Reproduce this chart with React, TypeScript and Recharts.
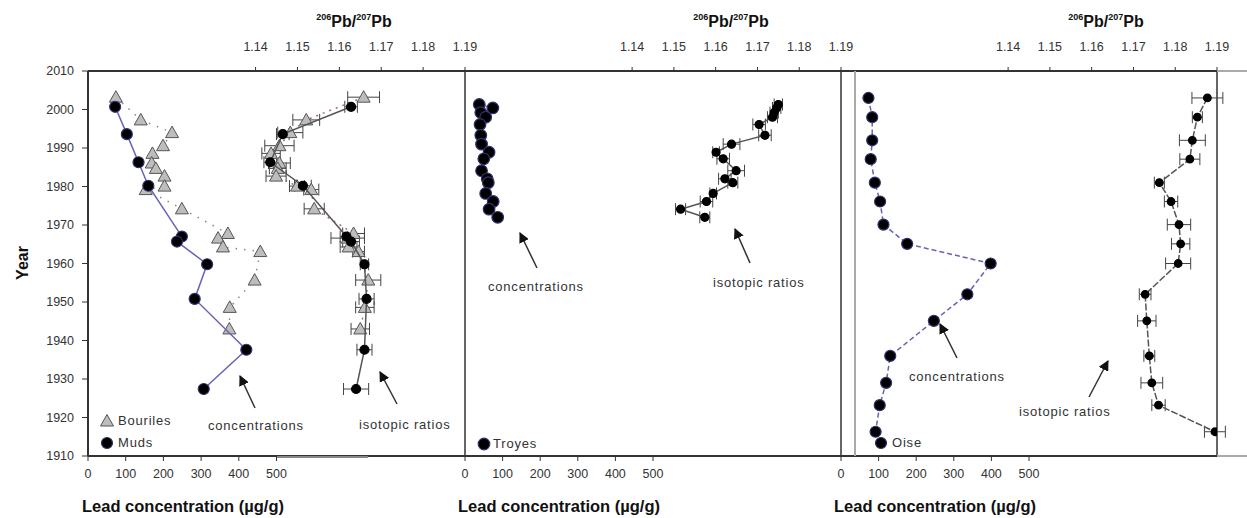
import React from 'react';
import { ScatterChart, Scatter, XAxis, YAxis, ErrorBar, ReferenceLine } from 'recharts';

// ---------- tick labels ----------
const yearTicks = [1910, 1920, 1930, 1940, 1950, 1960, 1970, 1980, 1990, 2000, 2010];
const concTicks = [0, 100, 200, 300, 400, 500];
const isoTicks = [1.14, 1.15, 1.16, 1.17, 1.18, 1.19];

// ---------- Panel 1 : Bouriles ----------
const bourilesYears = [2003.2, 1997.3, 1994, 1990.6, 1988.6, 1986.1, 1984.7, 1982.7, 1980.1, 1979.2, 1974.2, 1967.8, 1966.6, 1964.3, 1963.1, 1955.7, 1948.6, 1943];
const bourilesConc = [74, 140, 223, 199, 171, 169, 180, 203, 203, 153, 249, 371, 345, 358, 457, 442, 376, 375];
const bourilesIso = [1.1658, 1.1521, 1.1483, 1.1457, 1.1437, 1.1457, 1.1453, 1.1449, 1.1499, 1.1533, 1.154, 1.1634, 1.162, 1.1622, 1.1646, 1.1669, 1.1661, 1.165];
const bourilesIsoErr = [0.0038, 0.0032, 0.003, 0.0035, 0.0022, 0.0026, 0.002, 0.0024, 0.0018, 0.0018, 0.0024, 0.0026, 0.004, 0.002, 0.0014, 0.003, 0.0022, 0.0022];

// ---------- Panel 1 : Muds ----------
const mudsYears = [2000.7, 1993.6, 1986.3, 1980.2, 1967, 1965.7, 1959.8, 1950.8, 1937.6, 1927.4];
const mudsConc = [72, 103, 134, 160, 249, 236, 316, 283, 420, 307];
const mudsIso = [1.1628, 1.1465, 1.1435, 1.1513, 1.1617, 1.1628, 1.166, 1.1665, 1.166, 1.164];
const mudsIsoErr = [0.0015, 0.0015, 0.0015, 0.002, 0.0015, 0.002, 0.001, 0.0018, 0.0018, 0.003];

// ---------- Panel 2 : Troyes ----------
const troyesYears = [2001.3, 2000.4, 1999.2, 1998, 1996.1, 1993.3, 1991, 1988.9, 1987.2, 1984.1, 1982, 1981, 1978.2, 1976.1, 1974.1, 1972];
const troyesConc = [38, 74, 42, 55, 40, 42, 44, 64, 50, 44, 59, 62, 55, 75, 64, 87];
const troyesIso = [1.175, 1.1746, 1.174, 1.1736, 1.1704, 1.1718, 1.1638, 1.1601, 1.1618, 1.1649, 1.1622, 1.1641, 1.1594, 1.1578, 1.1516, 1.1574];
const troyesIsoErr = [0.001, 0.001, 0.001, 0.0012, 0.0015, 0.0015, 0.002, 0.0008, 0.0015, 0.002, 0.0015, 0.0012, 0.0008, 0.0015, 0.0012, 0.0012];

// ---------- Panel 3 : Oise ----------
const oiseYears = [2003, 1998, 1992, 1987.1, 1981, 1976.1, 1970.1, 1965.1, 1960, 1952, 1945.1, 1936, 1929, 1923.2, 1916.3];
const oiseConc = [73, 83, 83, 79, 90, 104, 113, 176, 398, 336, 247, 131, 120, 103, 92];
const oiseIso = [1.1877, 1.1853, 1.1841, 1.1835, 1.1762, 1.179, 1.1809, 1.1813, 1.1807, 1.1728, 1.1732, 1.1738, 1.1744, 1.176, 1.1895];
const oiseIsoErr = [0.0037, 0.0012, 0.0031, 0.0024, 0.0012, 0.0016, 0.0028, 0.0022, 0.003, 0.0014, 0.0022, 0.0013, 0.0026, 0.0016, 0.0025];

// ---------- builders ----------
const concRows = (years: number[], vals: number[]) => years.map((y, i) => ({ year: y, c: vals[i] }));
const isoRows = (years: number[], vals: number[], errs: number[]) => years.map((y, i) => ({ year: y, r: vals[i], e: errs[i] }));

const W = 1247;
const H = 518;
const PLOT_TOP = 71;
const PLOT_BOTTOM = 456;
const FONT = '"Liberation Sans", Arial, sans-serif';
const TOP_H = 40;
const BOT_H = 30;
const YAXIS_W = 88;

const Circle = (r: number, fill: string, stroke: string) => (p: any) => (
  <circle cx={p.cx} cy={p.cy} r={r} fill={fill} stroke={stroke} strokeWidth={1.2} />
);
const Tri = (p: any) => (
  <polygon
    points={`${p.cx},${p.cy - 6.5} ${p.cx - 6.5},${p.cy + 5} ${p.cx + 6.5},${p.cy + 5}`}
    fill="#bdbdbd"
    stroke="#555"
    strokeWidth={1}
  />
);

const tickStyle = { fill: '#333', fontSize: 12.5, fontFamily: FONT };

function Panel({ plotLeft, plotRight, showY, children }: any) {
  return (
    <div style={{ position: 'absolute', left: 0, top: 0 }}>
      <ScatterChart
        width={W}
        height={H}
        margin={{
          top: PLOT_TOP - TOP_H,
          bottom: H - PLOT_BOTTOM - BOT_H,
          left: showY ? plotLeft - YAXIS_W : plotLeft,
          right: W - plotRight,
        }}
      >
        <XAxis
          xAxisId="conc"
          type="number"
          dataKey="c"
          domain={[0, 1000]}
          ticks={concTicks}
          orientation="bottom"
          height={BOT_H}
          tick={tickStyle}
          tickSize={5}
          tickMargin={8}
          axisLine={{ stroke: '#333', strokeWidth: 2 }}
          tickLine={{ stroke: '#333' }}
          allowDataOverflow
        />
        <XAxis
          xAxisId="iso"
          type="number"
          dataKey="r"
          domain={[1.1, 1.19]}
          ticks={isoTicks}
          orientation="top"
          height={TOP_H}
          tick={tickStyle}
          tickSize={4}
          tickMargin={16}
          tickFormatter={(v: number) => v.toFixed(2)}
          axisLine={{ stroke: '#333', strokeWidth: 2 }}
          tickLine={{ stroke: '#333' }}
          allowDataOverflow
        />
        <YAxis
          type="number"
          dataKey="year"
          domain={[1910, 2010]}
          ticks={yearTicks}
          width={YAXIS_W}
          hide={!showY}
          tick={tickStyle}
          tickSize={6}
          tickMargin={8}
          axisLine={{ stroke: '#333', strokeWidth: 2 }}
          tickLine={{ stroke: '#333' }}
          allowDataOverflow
        />
        <ReferenceLine xAxisId="conc" x={1000} stroke="#666" strokeWidth={2} />
        {children}
      </ScatterChart>
    </div>
  );
}

const arrowDefs = (
  <defs>
    <marker id="ah" viewBox="0 0 10 10" refX="9" refY="5" markerWidth="7" markerHeight="7" orient="auto-start-reverse">
      <path d="M0,0 L10,5 L0,10 z" fill="#111" />
    </marker>
  </defs>
);

function Title({ cx }: { cx: number }) {
  return (
    <text x={cx} y={27} textAnchor="middle" fontFamily={FONT} fontWeight="bold" fill="#111">
      <tspan fontSize={9} dy={-7}>206</tspan>
      <tspan fontSize={16} dy={7}>Pb/</tspan>
      <tspan fontSize={9} dy={-7}>207</tspan>
      <tspan fontSize={16} dy={7}>Pb</tspan>
    </text>
  );
}

const annStyle = { fontFamily: FONT, fontSize: 13, fill: '#333', letterSpacing: 0.8 } as any;
const axTitle = { fontFamily: FONT, fontSize: 16.5, fontWeight: 'bold', fill: '#111' } as any;

export default function App() {
  return (
    <div style={{ position: 'absolute', left: 0, top: 0, width: W, height: H, background: '#fff', overflow: 'hidden' }}>
      {/* Panel 1 */}
      <Panel plotLeft={88} plotRight={465} showY>
        <Scatter
          xAxisId="conc"
          data={concRows(bourilesYears, bourilesConc)}
          shape={Tri}
          line={{ stroke: '#888', strokeWidth: 1.5, strokeDasharray: '1.5 7' }}
          isAnimationActive={false}
        />
        <Scatter
          xAxisId="conc"
          data={concRows(mudsYears, mudsConc)}
          shape={Circle(5.5, '#000', '#303070')}
          line={{ stroke: '#6464b8', strokeWidth: 1.5 }}
          isAnimationActive={false}
        />
        <Scatter
          xAxisId="iso"
          data={isoRows(bourilesYears, bourilesIso, bourilesIsoErr)}
          shape={Tri}
          line={{ stroke: '#b06a6a', strokeWidth: 1.5, strokeDasharray: '2 5' }}
          isAnimationActive={false}
        >
          <ErrorBar dataKey="e" direction="x" width={6} stroke="#444" strokeWidth={1} isAnimationActive={false} />
        </Scatter>
        <Scatter
          xAxisId="iso"
          data={isoRows(mudsYears, mudsIso, mudsIsoErr)}
          shape={Circle(4.5, '#000', '#000')}
          line={{ stroke: '#555', strokeWidth: 1.5 }}
          isAnimationActive={false}
        >
          <ErrorBar dataKey="e" direction="x" width={6} stroke="#444" strokeWidth={1} isAnimationActive={false} />
        </Scatter>
      </Panel>

      {/* Panel 2 */}
      <Panel plotLeft={465} plotRight={841} showY={false}>
        <Scatter
          xAxisId="conc"
          data={concRows(troyesYears, troyesConc)}
          shape={Circle(5.8, '#000', '#303070')}
          line={{ stroke: '#6464b8', strokeWidth: 1 }}
          isAnimationActive={false}
        />
        <Scatter
          xAxisId="iso"
          data={isoRows(troyesYears, troyesIso, troyesIsoErr)}
          shape={Circle(4, '#000', '#000')}
          line={{ stroke: '#555', strokeWidth: 1.5 }}
          isAnimationActive={false}
        >
          <ErrorBar dataKey="e" direction="x" width={6} stroke="#444" strokeWidth={1} isAnimationActive={false} />
        </Scatter>
      </Panel>

      {/* Panel 3 */}
      <Panel plotLeft={841} plotRight={1217} showY={false}>
        <Scatter
          xAxisId="conc"
          data={concRows(oiseYears, oiseConc)}
          shape={Circle(5.5, '#000', '#303070')}
          line={{ stroke: '#6464b8', strokeWidth: 1.5, strokeDasharray: '5 3' }}
          isAnimationActive={false}
        />
        <Scatter
          xAxisId="iso"
          data={isoRows(oiseYears, oiseIso, oiseIsoErr)}
          shape={Circle(3.8, '#000', '#000')}
          line={{ stroke: '#555', strokeWidth: 1.5, strokeDasharray: '7 2' }}
          isAnimationActive={false}
        >
          <ErrorBar dataKey="e" direction="x" width={6} stroke="#444" strokeWidth={1} isAnimationActive={false} />
        </Scatter>
      </Panel>

      {/* Overlay: titles, legends, annotations, frame extras */}
      <svg width={W} height={H} style={{ position: 'absolute', left: 0, top: 0, pointerEvents: 'none' }}>
        {arrowDefs}
        {/* frame extras */}
        <line x1={855} y1={71} x2={855} y2={456} stroke="#aaa" strokeWidth={2} />
        <line x1={1217} y1={71} x2={1247} y2={71} stroke="#aaa" strokeWidth={2} />
        <line x1={1217} y1={456} x2={1247} y2={456} stroke="#aaa" strokeWidth={2} />
        <line x1={277} y1={457} x2={368} y2={457} stroke="#888" strokeWidth={2} />

        <Title cx={354} />
        <Title cx={731} />
        <Title cx={1106} />

        <text x={22} y={263} transform="rotate(-90 22 263)" textAnchor="middle" dominantBaseline="central" fontFamily={FONT} fontWeight="bold" fontSize={16} fill="#111">Year</text>

        <text x={183} y={512} textAnchor="middle" style={axTitle}>Lead concentration (µg/g)</text>
        <text x={559} y={512} textAnchor="middle" style={axTitle}>Lead concentration (µg/g)</text>
        <text x={935} y={512} textAnchor="middle" style={axTitle}>Lead concentration (µg/g)</text>

        {/* legends */}
        <polygon points="107,414.5 100.5,426 113.5,426" fill="#bdbdbd" stroke="#555" strokeWidth={1} />
        <text x={118} y={425} style={annStyle}>Bouriles</text>
        <circle cx={107} cy={443} r={5.5} fill="#000" stroke="#303070" strokeWidth={1.2} />
        <text x={118} y={447} style={annStyle}>Muds</text>
        <circle cx={484} cy={444} r={5.8} fill="#000" stroke="#303070" strokeWidth={1.2} />
        <text x={493} y={448} style={annStyle}>Troyes</text>
        <circle cx={881} cy={443} r={5.5} fill="#000" stroke="#303070" strokeWidth={1.2} />
        <text x={892} y={447} style={annStyle}>Oise</text>

        {/* annotations */}
        <text x={208} y={430} style={annStyle}>concentrations</text>
        <line x1={255} y1={408} x2={240} y2={376} stroke="#333" strokeWidth={1.5} markerEnd="url(#ah)" />
        <text x={359} y={429} style={annStyle}>isotopic ratios</text>
        <line x1={397} y1={404} x2={380} y2={372} stroke="#333" strokeWidth={1.5} markerEnd="url(#ah)" />

        <text x={488} y={291} style={annStyle}>concentrations</text>
        <line x1={537} y1={268} x2={520} y2={233} stroke="#333" strokeWidth={1.5} markerEnd="url(#ah)" />
        <text x={713} y={287} style={annStyle}>isotopic ratios</text>
        <line x1={750} y1={263} x2={735} y2={229} stroke="#333" strokeWidth={1.5} markerEnd="url(#ah)" />

        <text x={909} y={381} style={annStyle}>concentrations</text>
        <line x1={957} y1={358} x2={940} y2={324} stroke="#333" strokeWidth={1.5} markerEnd="url(#ah)" />
        <text x={1019} y={416} style={annStyle}>isotopic ratios</text>
        <line x1={1089} y1={397} x2={1108} y2={361} stroke="#333" strokeWidth={1.5} markerEnd="url(#ah)" />
      </svg>
    </div>
  );
}
